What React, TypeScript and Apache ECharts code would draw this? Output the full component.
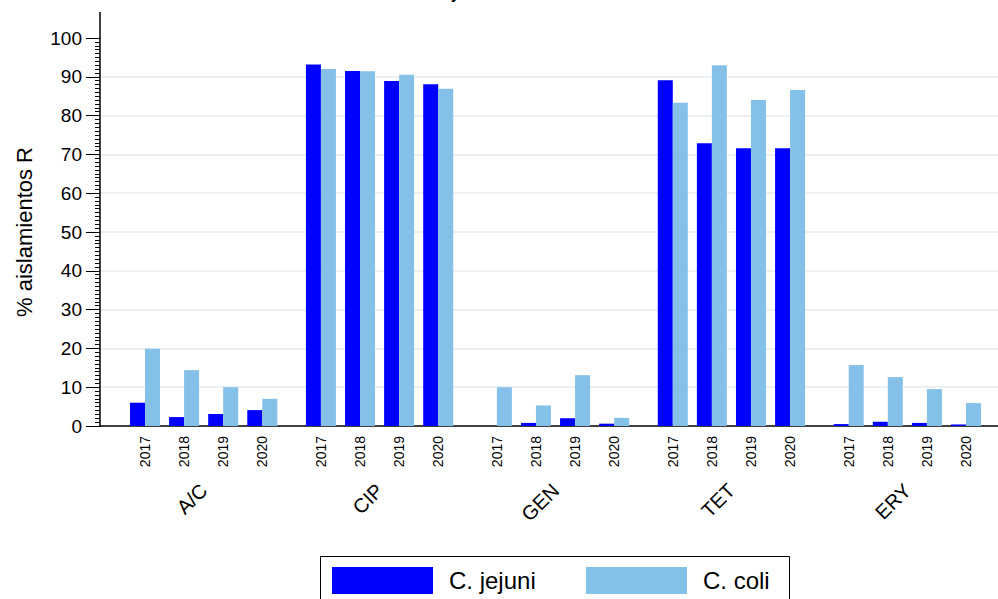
import React, { useEffect, useRef } from "react";
import * as echarts from "echarts";

const years = ["2017", "2018", "2019", "2020"];
const antimicrobials = ["A/C", "CIP", "GEN", "TET", "ERY"];
// values ordered by antimicrobial, then year
const jejuniValues = [
  6.0, 2.3, 3.1, 4.1,
  93.2, 91.5, 88.9, 88.1,
  0, 0.8, 2.0, 0.6,
  89.1, 72.9, 71.6, 71.6,
  0.5, 1.1, 0.8, 0.4,
];
const coliValues = [
  19.9, 14.4, 10.0, 7.0,
  92.0, 91.4, 90.5, 86.9,
  10.0, 5.3, 13.1, 2.1,
  83.3, 93.0, 84.0, 86.6,
  15.7, 12.6, 9.5, 5.9,
];
const seriesNames = ["C. jejuni", "C. coli"];
const yTicks = [0, 10, 20, 30, 40, 50, 60, 70, 80, 90, 100];
const titleText = "Porcentaje de aislamientos resistentes";
const yAxisName = "% aislamientos R";

const FONT = "'Liberation Sans', Arial, sans-serif";
const COLORS = ["#0000ff", "#85c0e9"];

// position on the value x-axis: group slot of 9 half-units, year slot of 2 half-units
const xOf = (g: number, i: number) => g * 9 + i * 2;

export default function App() {
  const ref = useRef<HTMLDivElement>(null);
  useEffect(() => {
    if (!ref.current) return;
    const chart = echarts.init(ref.current, undefined, { renderer: "svg" });

    const yearPositions: number[] = [];
    const yearLabelMap: Record<string, string> = {};
    antimicrobials.forEach((_, g) =>
      years.forEach((y, i) => {
        const x = xOf(g, i);
        yearPositions.push(x);
        yearLabelMap[String(x)] = y;
      })
    );
    const groupPositions: number[] = [];
    const groupLabelMap: Record<string, string> = {};
    antimicrobials.forEach((a, g) => {
      const x = (xOf(g, 0) + xOf(g, years.length - 1)) / 2;
      groupPositions.push(x);
      groupLabelMap[String(x)] = a;
    });

    const toData = (vals: number[]) =>
      vals.map((v, k) => [xOf(Math.floor(k / years.length), k % years.length), v]);

    const xMin = -2.302;
    const xMax = 43.637;

    chart.setOption({
      animation: false,
      textStyle: { fontFamily: FONT },
      grid: { left: 100, right: 0, top: 38, bottom: 173, containLabel: false },
      xAxis: [
        {
          type: "value",
          position: "bottom",
          min: xMin,
          max: xMax,
          axisLine: { show: true, onZero: false, lineStyle: { color: "#000", width: 1.5 } },
          axisTick: { show: false },
          splitLine: { show: false },
          axisLabel: {
            customValues: yearPositions,
            formatter: (v: number) => yearLabelMap[String(v)] ?? "",
            rotate: 90,
            fontSize: 14,
            margin: 10,
            color: "#000",
            fontFamily: FONT,
          },
        },
        {
          type: "value",
          position: "bottom",
          min: xMin,
          max: xMax,
          axisLine: { show: false, onZero: false },
          axisTick: { show: false },
          splitLine: { show: false },
          axisLabel: {
            customValues: groupPositions,
            formatter: (v: number) => groupLabelMap[String(v)] ?? "",
            rotate: 45,
            fontSize: 20,
            margin: 61,
            color: "#000",
            fontFamily: FONT,
          },
        },
      ],
      yAxis: {
        type: "value",
        min: yTicks[0],
        max: yTicks[yTicks.length - 1],
        interval: 10,
        name: yAxisName,
        nameLocation: "middle",
        nameGap: 65,
        nameTextStyle: { fontSize: 22, color: "#000", fontFamily: FONT },
        axisLine: { show: true, onZero: false, lineStyle: { color: "#000", width: 1.5 } },
        axisTick: { show: true, length: 14, lineStyle: { color: "#000", width: 1 } },
        minorTick: { show: true, splitNumber: 10, length: 5, lineStyle: { color: "#000", width: 1 } },
        axisLabel: { fontSize: 19, color: "#000", margin: 18, fontFamily: FONT },
        splitLine: {
          show: true,
          showMinLine: false,
          showMaxLine: false,
          lineStyle: { color: "#eaf0f3", width: 2 },
        },
      },
      legend: [
        {
          data: [seriesNames[0]],
          left: 332,
          top: 567,
          padding: 0,
          icon: "rect",
          itemWidth: 101,
          itemHeight: 27,
          textStyle: { fontSize: 24, color: "#000", padding: [0, 0, 0, 11], fontFamily: FONT },
        },
        {
          data: [seriesNames[1]],
          left: 586,
          top: 567,
          padding: 0,
          icon: "rect",
          itemWidth: 101,
          itemHeight: 27,
          textStyle: { fontSize: 24, color: "#000", padding: [0, 0, 0, 11], fontFamily: FONT },
        },
      ],
      graphic: [
        {
          type: "line",
          shape: { x1: 100, y1: 12, x2: 100, y2: 38 },
          style: { stroke: "#000", lineWidth: 1.5 },
          silent: true,
        },
        {
          type: "rect",
          shape: { x: 320.5, y: 556.5, width: 469, height: 60 },
          style: { fill: "none", stroke: "#000", lineWidth: 1 },
          silent: true,
          z: 0,
        },
        {
          type: "text",
          x: 557,
          y: -11,
          style: {
            text: titleText,
            fontSize: 23,
            fontFamily: FONT,
            fill: "#000",
            textAlign: "center",
            textVerticalAlign: "middle",
          },
          silent: true,
        },
      ],
      series: [
        {
          name: seriesNames[0],
          type: "bar",
          xAxisIndex: 0,
          barWidth: 15,
          barGap: "0%",
          itemStyle: { color: COLORS[0] },
          data: toData(jejuniValues),
        },
        {
          name: seriesNames[1],
          type: "bar",
          xAxisIndex: 0,
          barWidth: 15,
          barGap: "0%",
          itemStyle: { color: COLORS[1] },
          data: toData(coliValues),
        },
      ],
    });
    return () => chart.dispose();
  }, []);
  return (
    <div
      ref={ref}
      style={{ position: "fixed", left: 0, top: 0, width: 998, height: 599, background: "#fff" }}
    />
  );
}
